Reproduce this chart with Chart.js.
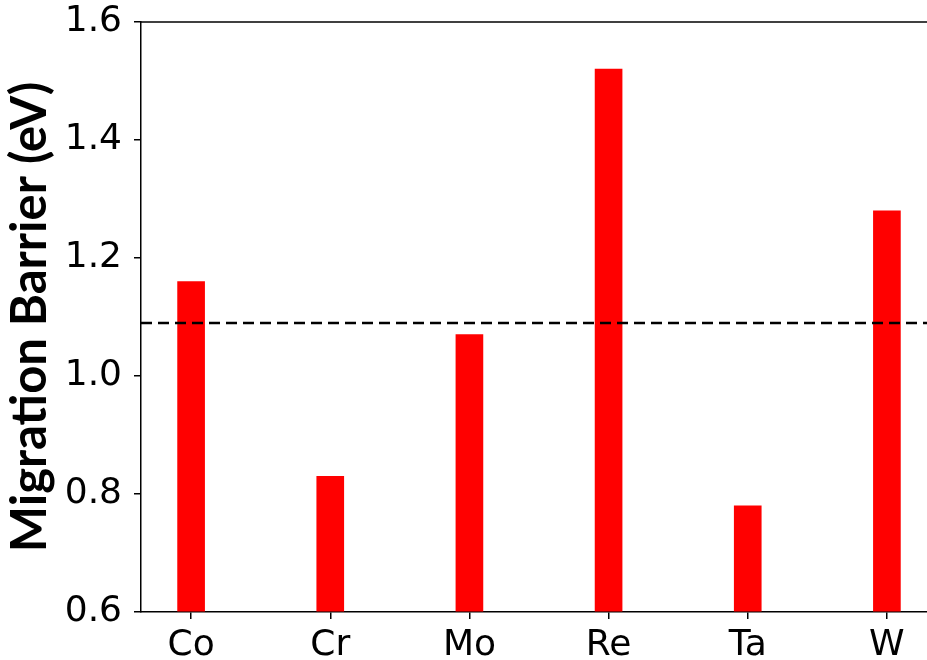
<!DOCTYPE html>
<html>
<head>
<meta charset="utf-8">
<script src="https://cdn.jsdelivr.net/npm/chart.js@4/dist/chart.umd.min.js"></script>
<style>
  html, body { margin: 0; padding: 0; background: #fff; overflow: hidden; }
  #wrap { width: 937px; height: 660px; }
</style>
</head>
<body>
<div id="wrap"><canvas id="barChart" width="937" height="660"></canvas></div>
<script>
// data
const elements = ['Co', 'Cr', 'Mo', 'Re', 'Ta', 'W'];
const barriers = [1.16, 0.83, 1.07, 1.52, 0.78, 1.28];
const refBarrier = 1.09; // dashed reference line
const yTicks = [0.6, 0.8, 1.0, 1.2, 1.4, 1.6];

const ctx = document.getElementById('barChart').getContext('2d');

// dashed line + top spine
const extras = {
  id: 'extras',
  afterDatasetsDraw(chart) {
    const { ctx, chartArea, scales: { y } } = chart;
    const py = y.getPixelForValue(refBarrier);
    ctx.save();
    ctx.strokeStyle = '#000';
    ctx.lineWidth = 2.5;
    ctx.setLineDash([11, 6]);
    ctx.beginPath();
    ctx.moveTo(chartArea.left, py);
    ctx.lineTo(chartArea.right, py);
    ctx.stroke();
    ctx.setLineDash([]);
    ctx.lineWidth = 1.5;
    ctx.beginPath();
    ctx.moveTo(chartArea.left, chartArea.top);
    ctx.lineTo(chartArea.right, chartArea.top);
    ctx.stroke();
    ctx.restore();
  }
};

new Chart(ctx, {
  type: 'bar',
  data: {
    datasets: [{
      data: barriers.map((v, i) => ({ x: i, y: v })),
      backgroundColor: '#ff0000',
      barThickness: 27,
      base: 0.6
    }]
  },
  options: {
    responsive: false,
    animation: false,
    layout: { padding: { top: 22, left: 0, right: 0, bottom: 0 } },
    plugins: { legend: { display: false }, tooltip: { enabled: false } },
    scales: {
      x: {
        type: 'linear',
        offset: false,
        min: -0.36,
        max: 5.36,
        afterBuildTicks(scale) {
          scale.ticks = elements.map((e, i) => ({ value: i }));
        },
        afterFit(scale) {
          scale.height = 48;
          scale.paddingLeft = 0;
          scale.paddingRight = 0;
        },
        ticks: {
          callback: (v) => elements[v],
          font: { family: 'DejaVu Sans', size: 36 },
          color: '#000',
          padding: 5,
          maxRotation: 0,
          autoSkip: false
        },
        grid: { offset: false, drawOnChartArea: false, drawTicks: true, tickLength: 7, color: '#000', lineWidth: 1.5 },
        border: { color: '#000', width: 1.5 }
      },
      y: {
        min: 0.6,
        max: 1.6,
        afterBuildTicks(scale) {
          scale.ticks = yTicks.map(v => ({ value: v }));
        },
        afterFit(scale) {
          scale.width = 141;
          scale.paddingTop = 0;
          scale.paddingBottom = 0;
        },
        ticks: {
          callback: (v) => v.toFixed(1),
          font: { family: 'DejaVu Sans', size: 36 },
          color: '#000',
          padding: 12
        },
        grid: { drawOnChartArea: false, drawTicks: true, tickLength: 7, color: '#000', lineWidth: 1.5 },
        border: { color: '#000', width: 1.5 },
        title: {
          display: true,
          text: 'Migration Barrier (eV)',
          font: { family: 'Lato', size: 49, weight: 'bold' },
          color: '#000',
          padding: { top: 1, bottom: 0 }
        }
      }
    }
  },
  plugins: [extras]
});
</script>
</body>
</html>
